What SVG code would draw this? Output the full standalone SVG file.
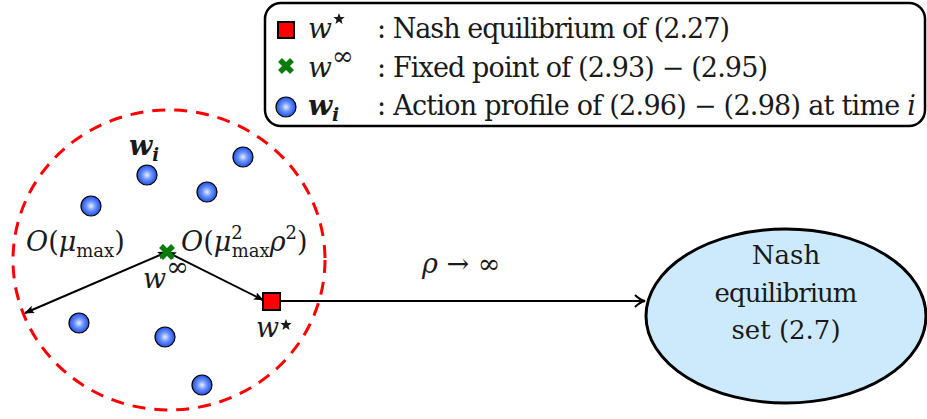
<svg xmlns="http://www.w3.org/2000/svg" width="927" height="419" viewBox="0 0 927 419">
<defs>
<radialGradient id="bg" cx="0.5" cy="0.5" r="0.5">
<stop offset="0" stop-color="#e8f0ff"/>
<stop offset="0.45" stop-color="#6f95ff"/>
<stop offset="1" stop-color="#1f4fe6"/>
</radialGradient>
<marker id="ah" viewBox="0 0 10 8" refX="9" refY="4" markerWidth="10" markerHeight="8" markerUnits="userSpaceOnUse" orient="auto-start-reverse">
<path d="M0,0 L10,4 L0,8 L2,4 z" fill="#000"/>
</marker>
<marker id="oh" viewBox="0 0 12 14" refX="11" refY="7" markerWidth="12" markerHeight="14" markerUnits="userSpaceOnUse" orient="auto">
<path d="M1,1 Q6,6 11,7 Q6,8 1,13" fill="none" stroke="#000" stroke-width="2"/>
</marker>
<path id="cross" d="M-6,-6 L6,6 M6,-6 L-6,6" stroke="#0a7a0a" stroke-width="5.5"/>
<circle id="ball" r="10" fill="url(#bg)" stroke="#000" stroke-width="1.2"/>
<polygon id="star" points="0,-6 1.5,-2 5.7,-1.9 2.4,0.8 3.5,4.9 0,2.5 -3.5,4.9 -2.4,0.8 -5.7,-1.9 -1.5,-2" fill="#1a1a1a"/>
</defs>

<g id="region">
<ellipse cx="169" cy="260" rx="156" ry="150" fill="none" stroke="#ff0000" stroke-width="3" stroke-dasharray="13 9"/>
</g>

<g id="balls">
<use href="#ball" x="147" y="175"/>
<use href="#ball" x="243" y="157"/>
<use href="#ball" x="207" y="192"/>
<use href="#ball" x="91" y="206"/>
<use href="#ball" x="79" y="323"/>
<use href="#ball" x="165" y="337"/>
<use href="#ball" x="202" y="385"/>
</g>

<g id="connectors" stroke="#000" stroke-width="2" fill="none">
<line x1="167" y1="252" x2="25" y2="313" marker-start="url(#ah)" marker-end="url(#ah)"/>
<line x1="167" y1="252" x2="263" y2="300" marker-start="url(#ah)" marker-end="url(#ah)"/>
<line x1="280" y1="301" x2="645" y2="301" marker-end="url(#oh)"/>
</g>
<text font-family="DejaVu Serif" fill="#1a1a1a" x="422" y="273" font-size="27"><tspan font-style="italic">ρ</tspan> → ∞</text>

<g id="fixed-point">
<use href="#cross" x="167" y="252"/>
<text font-family="DejaVu Serif" fill="#1a1a1a" font-style="italic" x="143" y="288" font-size="27">w<tspan font-style="normal" font-size="27" dy="-12">∞</tspan></text>
</g>

<g id="nash-point">
<rect x="263" y="293" width="17" height="17" fill="#ff0000" stroke="#000" stroke-width="2"/>
<text font-family="DejaVu Serif" fill="#1a1a1a" font-style="italic" x="256" y="337" font-size="27">w</text>
<use href="#star" x="286" y="325"/>
</g>

<g id="labels">
<text font-family="DejaVu Serif" fill="#1a1a1a" x="129" y="155" font-size="27" font-weight="bold" font-style="italic">w<tspan font-size="18" dy="6">i</tspan></text>
<text font-family="DejaVu Serif" fill="#1a1a1a" x="26" y="251" font-size="27"><tspan font-style="italic">O</tspan>(<tspan font-style="italic">μ</tspan><tspan font-size="18" dy="6">max</tspan><tspan dy="-6">)</tspan></text>
<text font-family="DejaVu Serif" fill="#1a1a1a" x="181" y="251" font-size="27"><tspan font-style="italic">O</tspan>(<tspan font-style="italic">μ</tspan><tspan font-size="18" dy="-12">2</tspan><tspan font-size="18" dx="-11" dy="18">max</tspan><tspan font-style="italic" dy="-6">ρ</tspan><tspan font-size="18" dy="-12">2</tspan><tspan dy="12">)</tspan></text>
</g>

<g id="nash-set">
<ellipse cx="786" cy="316" rx="140" ry="87" fill="#cdeafd" stroke="#000" stroke-width="3"/>
<text font-family="DejaVu Serif" fill="#1a1a1a" x="786" y="264" font-size="26" text-anchor="middle">Nash</text>
<text font-family="DejaVu Serif" fill="#1a1a1a" x="786" y="302" font-size="26" text-anchor="middle" textLength="143">equilibrium</text>
<text font-family="DejaVu Serif" fill="#1a1a1a" x="786" y="339" font-size="26" text-anchor="middle">set (2.7)</text>
</g>

<g id="legend">
<rect x="265" y="3" width="660" height="123" rx="16" ry="16" fill="#fff" stroke="#000" stroke-width="2.5"/>
<rect x="278" y="22" width="16" height="16" fill="#ff0000" stroke="#000" stroke-width="2"/>
<use href="#cross" x="286" y="66"/>
<use href="#ball" x="286" y="107"/>
<text font-family="DejaVu Serif" fill="#1a1a1a" font-style="italic" x="308" y="38" font-size="28">w</text>
<use href="#star" x="339" y="19"/>
<text font-family="DejaVu Serif" fill="#1a1a1a" font-style="italic" x="308" y="77" font-size="28">w<tspan font-style="normal" font-size="26" dy="-12">∞</tspan></text>
<text font-family="DejaVu Serif" fill="#1a1a1a" font-style="italic" x="308" y="115" font-size="28" font-weight="bold">w<tspan font-size="19" dy="6">i</tspan></text>
<text font-family="DejaVu Serif" fill="#1a1a1a" x="377" y="38" font-size="27" textLength="353">: Nash equilibrium of (2.27)</text>
<text font-family="DejaVu Serif" fill="#1a1a1a" x="377" y="77" font-size="27" textLength="391">: Fixed point of (2.93) − (2.95)</text>
<text font-family="DejaVu Serif" fill="#1a1a1a" x="377" y="115" font-size="27" textLength="539">: Action profile of (2.96) − (2.98) at time <tspan font-style="italic">i</tspan></text>
</g>
</svg>
